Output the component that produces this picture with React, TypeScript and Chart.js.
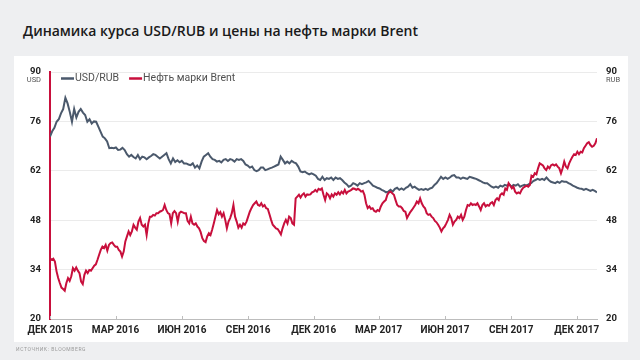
import React, { useEffect, useRef } from "react";
import { Chart, registerables } from "chart.js";

Chart.register(...registerables);

const TITLE = "Динамика курса USD/RUB и цены на нефть марки Brent";
const SOURCE = "ИСТОЧНИК: BLOOMBERG";
const SERIES_NAMES = ["USD/RUB", "Нефть марки Brent"];
const UNIT_LEFT = "USD";
const UNIT_RIGHT = "RUB";

// x axis: days since 1 Dec 2015; last observation 29 Dec 2017
const LAST_DAY = 759;
const TICK_DAYS = [0, 91, 183, 275, 366, 456, 548, 640, 731];
const TICK_LABELS = [
  "ДЕК 2015", "МАР 2016", "ИЮН 2016", "СЕН 2016", "ДЕК 2016",
  "МАР 2017", "ИЮН 2017", "СЕН 2017", "ДЕК 2017",
];
const Y_MIN = 20;
const Y_MAX = 90;
const Y_STEP = 14;

// USD/RUB, evenly spaced observations from 1 Dec 2015 to 29 Dec 2017
const usdRub = [
  71.7, 73.2, 74.2, 75.9, 76.6, 78.3, 79.5, 82.7, 81.1, 78.7,
  75.9, 79.5, 77.1, 78.7, 79.5, 78.5, 77.8, 75.9, 76.6, 75.4,
  76.0, 75.9, 74.5, 73.1, 71.7, 71.2, 70.3, 68.4, 68.5, 68.4,
  68.6, 67.9, 68.0, 68.5, 67.9, 66.7, 66.0, 66.5, 65.9, 65.5,
  66.5, 65.3, 66.0, 65.8, 65.3, 65.8, 66.2, 66.7, 66.5, 66.0,
  65.5, 66.0, 66.5, 67.0, 65.3, 64.1, 65.5, 64.5, 65.0, 64.4,
  64.8, 64.1,
  64.1, 63.8, 63.6, 64.1, 62.9, 63.5, 62.7, 64.6, 66.0, 66.5,
  67.0, 66.0, 65.3, 65.1, 64.6, 64.8, 64.4, 65.1, 65.3, 64.8,
  65.3, 65.1, 64.6, 65.3, 65.1, 65.3, 64.8, 63.8, 63.5, 62.9,
  63.2, 62.2, 61.9, 62.2, 62.9, 62.9, 62.2, 62.4, 62.7, 62.9,
  63.2, 63.5, 63.8, 66.0, 65.1, 64.1, 64.6, 64.1, 64.8, 64.4,
  64.1, 63.2, 61.8, 61.6, 61.8, 61.3, 61.0, 61.3, 61.0, 60.6,
  59.7, 59.4,
  60.3, 59.4, 59.9, 59.7, 60.1, 59.4, 60.1, 59.7, 59.9, 59.4,
  58.7, 58.2, 57.5, 57.8, 58.5, 58.2, 57.8, 58.5, 58.2, 58.5,
  58.7, 59.1, 58.5, 57.8, 57.5, 57.2, 57.0, 56.6, 56.3, 55.9,
  56.1, 56.6, 56.1, 56.9, 57.2, 56.6, 57.0, 56.6, 57.2, 57.5,
  58.2, 57.2, 57.5, 57.0, 56.6, 56.8, 56.6, 56.9, 56.6, 57.0,
  57.2, 58.0, 58.5, 59.4, 60.3, 59.7, 60.1, 59.7, 60.1, 60.6,
  60.8, 60.1,
  60.1, 59.7, 60.1, 59.9, 59.7, 60.3, 60.1, 59.9, 59.7, 59.4,
  59.1, 58.7, 58.5, 58.5, 58.0, 57.5, 57.2, 57.5, 57.2, 57.8,
  57.5, 58.0, 57.8, 58.2, 57.5, 58.0, 57.8, 58.2, 57.5, 57.8,
  58.0, 57.8, 58.2, 58.5, 59.1, 59.4, 59.7, 59.4, 59.7, 59.4,
  60.1, 59.4, 58.9, 58.7, 58.5, 58.9, 58.6, 59.1, 58.9, 58.9,
  58.5, 58.2, 57.8, 57.5, 57.2, 57.0, 56.9, 56.6, 56.9, 56.6,
  56.3, 56.6, 56.3, 55.9,
];

// Brent, USD per barrel, evenly spaced observations over the same period
const brent = [
  37.2, 36.8, 37.1, 36.3, 33.5, 31.6, 30.2, 28.9, 28.5, 28.0,
  30.2, 31.6, 30.8, 32.1, 34.4, 33.7, 34.6, 33.7, 33.0, 30.6,
  29.9, 32.5, 33.7, 33.0, 33.9, 33.7, 34.4, 35.1, 35.5, 36.8,
  38.2, 39.6, 40.5, 40.1, 41.0, 39.4, 41.0, 41.5, 41.7, 41.0,
  40.5, 40.5, 39.6, 39.1, 37.7, 39.1, 42.0, 43.4, 44.8, 43.8,
  44.8, 46.7, 45.9, 45.3, 47.6, 48.6, 46.7, 46.2, 46.7, 43.8,
  47.1, 49.0, 49.0, 49.5, 49.3, 50.0, 50.0, 50.4, 50.6, 50.9,
  52.3, 50.9, 50.0, 49.7, 47.1, 50.0, 50.6, 50.0, 47.6, 50.0,
  50.4, 50.2,
  50.0, 50.0, 47.8, 47.1, 49.0, 47.1, 46.7, 47.1, 46.2, 45.7,
  44.6, 42.9, 42.1, 41.8, 43.4, 44.3, 43.8, 45.3, 47.1, 49.0,
  50.9, 49.7, 50.3, 49.0, 50.0, 48.1, 45.7, 47.6, 48.6, 50.0,
  52.3, 49.0, 47.6, 45.9, 46.7, 45.9, 47.1, 46.7, 47.6, 49.0,
  50.4, 51.4, 52.3, 52.8, 53.3, 52.3, 52.1, 52.8, 51.9, 52.3,
  51.4, 51.2, 49.7, 48.1, 46.7, 46.2, 45.7, 45.5, 44.8, 44.0,
  45.7, 47.1, 48.1, 47.1, 49.0, 48.6, 47.1, 46.7, 54.2, 54.7,
  55.2, 54.4, 55.2, 55.6, 54.7, 55.3, 55.2, 55.3, 55.9, 56.1,
  56.6, 56.1, 56.9, 56.6,
  57.0, 55.2, 53.7, 55.6, 55.2, 54.2, 55.3, 54.7, 55.6, 55.2,
  55.9, 55.3, 56.1, 55.6, 56.6, 55.6, 56.1, 56.3, 56.6, 57.0,
  56.9, 56.6, 56.9, 56.6, 56.1, 56.3, 55.2, 52.8, 51.4, 51.9,
  51.2, 51.4, 50.6, 50.4, 50.9, 50.6, 51.9, 52.8, 53.3, 53.7,
  55.2, 55.9, 56.1, 55.6, 55.2, 53.7, 52.3, 51.9, 51.9, 51.4,
  50.6, 50.4, 48.6, 49.5, 50.3, 50.9, 51.6, 52.3, 53.3, 52.8,
  54.2, 52.8, 51.9, 51.4, 50.0, 49.5, 49.7, 49.0, 48.6, 47.8,
  47.4, 46.7, 45.9, 44.8, 45.7, 46.2, 47.1, 48.1, 49.5, 48.6,
  46.7, 47.6, 48.1,
  49.0, 48.6, 49.5, 48.1, 49.0, 50.9, 52.3, 52.1, 52.8, 52.3,
  52.5, 52.3, 52.8, 51.9, 50.9, 52.3, 52.8, 51.9, 52.3, 52.1,
  52.8, 53.1, 52.3, 53.7, 54.2, 53.7, 55.2, 55.6, 55.2, 57.0,
  56.6, 58.5, 57.8, 57.0, 57.5, 56.1, 55.6, 55.9, 55.6, 56.6,
  57.2, 57.5, 57.8, 57.5, 58.0, 60.6, 60.3, 61.3, 61.0, 62.7,
  64.1, 63.8, 63.5, 62.7, 62.2, 63.2, 62.7, 63.6, 63.8, 63.5,
  63.8, 63.2, 62.7, 61.3, 62.7, 64.6, 63.2, 62.7, 64.1, 65.1,
  66.0, 66.7, 66.5, 67.4, 66.7, 67.4, 67.2, 68.4, 69.1, 69.8,
  70.1, 69.3, 68.8, 69.1, 69.8, 71.2,
];

const USD_COLOR = "#4b596c";
const BRENT_COLOR = "#c80f3c";
const GRID_COLOR = "#ebebeb";
const AXIS_COLOR = "#bdbdbd";
const LABEL_COLOR = "#222222";
const FONT = "Roboto";

const toPoints = (vals: number[]) =>
  vals.map((v, i) => ({ x: (i * LAST_DAY) / (vals.length - 1), y: v }));

const extrasPlugin = {
  id: "extras",
  afterDraw(chart: any) {
    const ctx = chart.ctx as CanvasRenderingContext2D;
    const area = chart.chartArea;
    const xs = chart.scales.x;
    const ys = chart.scales.y;
    ctx.save();
    // small tick marks on the x axis (inside)
    ctx.strokeStyle = AXIS_COLOR;
    ctx.lineWidth = 1;
    xs.ticks.forEach((t: any) => {
      const px = Math.round(xs.getPixelForValue(t.value)) + 0.5;
      ctx.beginPath();
      ctx.moveTo(px, area.bottom - 3);
      ctx.lineTo(px, area.bottom);
      ctx.stroke();
    });
    // units under the top tick labels
    const topY = ys.getPixelForValue(Y_MAX);
    ctx.font = `400 7.5px ${FONT}`;
    ctx.fillStyle = "#555555";
    ctx.textBaseline = "middle";
    ctx.textAlign = "right";
    ctx.fillText(UNIT_LEFT, area.left - 9, topY + 7.8);
    ctx.textAlign = "left";
    ctx.fillText(UNIT_RIGHT, area.right + 9, topY + 7.8);
    // legend
    const colors = [USD_COLOR, BRENT_COLOR];
    let lx = area.left + 11;
    const ly = topY + 6.5;
    ctx.font = `400 10.5px ${FONT}`;
    SERIES_NAMES.forEach((name, i) => {
      ctx.strokeStyle = colors[i];
      ctx.lineWidth = 2.5;
      ctx.beginPath();
      ctx.moveTo(lx, ly);
      ctx.lineTo(lx + 13, ly);
      ctx.stroke();
      ctx.fillStyle = "#505050";
      ctx.textAlign = "left";
      ctx.textBaseline = "middle";
      ctx.fillText(name, lx + 14, ly);
      lx += 14 + ctx.measureText(name).width + 10;
    });
    ctx.restore();
  },
};

export default function App() {
  const ref = useRef<HTMLCanvasElement | null>(null);

  useEffect(() => {
    if (!ref.current) return;
    const yTickCb = (v: any) => String(v);
    const chart = new Chart(ref.current, {
      type: "line",
      data: {
        datasets: [
          {
            label: SERIES_NAMES[0],
            data: toPoints(usdRub),
            borderColor: USD_COLOR,
            borderWidth: 2,
            pointRadius: 0,
            tension: 0,
            order: 1,
            yAxisID: "y",
          },
          {
            label: SERIES_NAMES[1],
            data: toPoints(brent),
            borderColor: BRENT_COLOR,
            borderWidth: 2,
            pointRadius: 0,
            tension: 0,
            order: 0,
            yAxisID: "y",
          },
        ],
      },
      options: {
        responsive: false,
        animation: false,
        devicePixelRatio: 1,
        layout: { padding: { top: 72, bottom: 19, left: 0, right: 0 } },
        plugins: {
          legend: { display: false },
          tooltip: { enabled: false },
          title: { display: false },
        },
        scales: {
          x: {
            type: "linear",
            min: 0,
            max: LAST_DAY,
            afterBuildTicks: (s: any) => {
              s.ticks = TICK_DAYS.map((v) => ({ value: v }));
            },
            afterFit: (s: any) => {
              s.height = 22;
            },
            ticks: {
              autoSkip: false,
              maxRotation: 0,
              padding: 5,
              color: LABEL_COLOR,
              font: { family: FONT, size: 10, weight: "bold" },
              callback: (v: any) => {
                const i = TICK_DAYS.indexOf(Number(v));
                return i >= 0 ? TICK_LABELS[i] : "";
              },
            },
            grid: { display: false, drawTicks: false },
            border: { display: true, color: AXIS_COLOR, width: 1 },
          },
          y: {
            position: "left",
            min: Y_MIN,
            max: Y_MAX,
            ticks: {
              stepSize: Y_STEP,
              padding: 9,
              color: LABEL_COLOR,
              font: { family: FONT, size: 9.5, weight: "bold" },
              callback: yTickCb,
            },
            afterFit: (s: any) => {
              s.width = 50;
            },
            grid: {
              drawTicks: false,
              color: (c: any) => (c.tick && c.tick.value === Y_MIN ? "rgba(0,0,0,0)" : GRID_COLOR),
              lineWidth: 1,
            },
            border: { display: true, color: BRENT_COLOR, width: 2 },
          },
          y2: {
            position: "right",
            min: Y_MIN,
            max: Y_MAX,
            ticks: {
              stepSize: Y_STEP,
              padding: 9,
              color: LABEL_COLOR,
              font: { family: FONT, size: 9.5, weight: "bold" },
              callback: yTickCb,
            },
            afterFit: (s: any) => {
              s.width = 43;
            },
            grid: { display: false, drawTicks: false },
            border: { display: false },
          },
        },
      },
      plugins: [extrasPlugin],
    } as any);
    return () => chart.destroy();
  }, []);

  return (
    <div
      style={{
        position: "fixed",
        left: 0,
        top: 0,
        width: 640,
        height: 360,
        background: "#eeeff1",
        overflow: "hidden",
      }}
    >
      <div
        style={{
          position: "absolute",
          left: 23,
          top: 24,
          fontFamily: "'Open Sans', sans-serif",
          fontWeight: 600,
          fontSize: 14,
          lineHeight: "14px",
          color: "#1a1a1a",
          whiteSpace: "nowrap",
        }}
      >
        {TITLE}
      </div>
      <div
        style={{
          position: "absolute",
          left: 14,
          top: 56,
          width: 614,
          height: 286,
          background: "#ffffff",
        }}
      />
      <canvas
        ref={ref}
        width={640}
        height={360}
        style={{ position: "absolute", left: 0, top: 0, width: 640, height: 360 }}
      />
      <div
        style={{
          position: "absolute",
          left: 16,
          top: 347,
          fontFamily: "Roboto, sans-serif",
          fontSize: 5,
          lineHeight: "5px",
          letterSpacing: "0.6px",
          color: "#9a9a9a",
          whiteSpace: "nowrap",
        }}
      >
        {SOURCE}
      </div>
    </div>
  );
}
